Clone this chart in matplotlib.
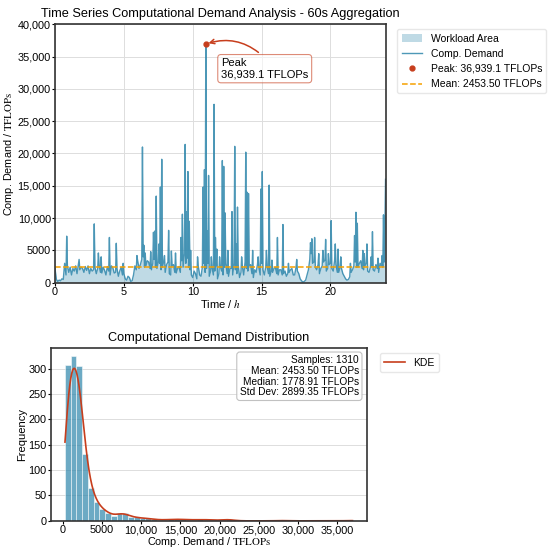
import matplotlib
matplotlib.use("Agg")
import matplotlib.pyplot as plt
import numpy as np
from matplotlib.ticker import FuncFormatter, MultipleLocator

plt.rcParams["font.family"] = ["Liberation Sans", "DejaVu Sans"]
plt.rcParams["mathtext.fontset"] = "stix"

# time series: baseline every 0.1 h (values in thousands of TFLOPs)
base_hours = np.round(np.arange(0, 24.01, 0.1), 2)
base_values = [
    2.2, 0.5, 0.2, 0.4, 0.3, 0.6, 0.5, 3.0, 1.2, 2.6,
    1.6, 2.4, 1.2, 2.2, 1.8, 2.6, 1.4, 2.8, 2.0, 2.4,
    2.2, 1.6, 2.5, 1.9, 2.6, 1.4, 2.2, 1.8, 2.0, 2.4,
    1.4, 2.2, 2.8, 1.6, 1.5, 2.4, 1.9, 1.2, 2.5, 1.8,
    1.2, 2.6, 2.3, 1.5, 1.6, 2.2, 1.0, 1.8, 2.4, 1.2,
    1.4, 0.6, 0.4, 1.0, 0.8, 0.2, 0.3, 1.2, 2.6, 2.0,
    3.4, 2.2, 2.8, 3.6, 4.0, 2.4, 2.6, 3.4, 3.2, 2.2,
    2.0, 3.0, 3.6, 2.4, 2.2, 3.2, 3.0, 2.0, 2.4, 3.4,
    1.6, 2.8, 3.2, 1.4, 1.2, 2.6, 2.8, 1.6, 1.5, 2.2,
    2.5, 1.6, 3.4, 2.4, 4.5, 3.0, 3.8, 2.4, 2.0, 1.2,
    0.8, 1.8, 1.4, 0.6, 2.6, 1.2, 1.0, 2.4, 3.0, 1.6,
    2.2, 3.0, 1.0, 1.8, 2.4, 1.2, 1.8, 2.6, 0.6, 1.4,
    2.6, 1.8, 1.2, 2.4, 3.0, 1.4, 1.0, 2.2, 2.2, 1.2,
    3.0, 2.0, 1.4, 2.8, 0.8, 1.6, 2.6, 1.2, 3.2, 2.2,
    1.8, 2.6, 2.8, 1.4, 0.8, 2.0, 1.6, 2.8, 2.4, 1.2,
    3.0, 2.0, 1.2, 2.4, 2.6, 1.4, 1.0, 1.8, 1.6, 2.2,
    2.4, 1.4, 1.2, 2.0, 2.0, 1.2, 1.4, 1.8, 1.0, 1.4,
    1.6, 2.0, 2.2, 1.2, 1.2, 2.4, 1.8, 1.4, 0.6, 0.3,
    0.1, 0.2, 0.4, 1.2, 2.0, 3.6, 4.5, 3.0, 3.2, 2.4,
    2.0, 2.8, 1.4, 2.2, 2.6, 3.2, 3.5, 1.8, 2.2, 2.8,
    3.0, 2.2, 1.8, 3.4, 2.8, 1.6, 1.6, 2.4, 2.2, 1.4,
    1.0, 0.6, 0.4, 0.5, 0.9, 1.6, 2.0, 2.6, 3.2, 2.4,
    2.4, 3.0, 3.4, 2.2, 2.0, 2.6, 3.0, 1.8, 1.6, 2.4,
    2.6, 2.0, 1.8, 2.8, 2.2, 1.6, 3.0, 2.6, 2.4, 3.2,
    16.0,
]

# spikes between the baseline samples
spike_hours = [
    0.85, 1.75, 2.85, 3.15, 3.35, 3.95, 4.45, 4.95, 5.95, 6.35,
    6.45, 6.55, 6.95, 7.15, 7.25, 7.35, 7.55, 7.65, 7.75, 7.95,
    8.25, 8.45, 8.75, 9.15, 9.25, 9.45, 9.55, 9.65, 9.75, 9.85,
    10.35, 10.75, 10.85, 10.95, 11.05, 11.15, 11.35, 11.55, 11.65, 11.75,
    11.95, 12.15, 12.25, 12.35, 12.55, 12.85, 13.05, 13.15, 13.25, 13.55,
    13.85, 13.95, 14.05, 14.35, 14.75, 14.95, 15.05, 15.35, 15.55, 15.75,
    16.15, 16.55, 16.95, 17.55, 18.55, 18.65, 18.85, 19.15, 19.45, 19.65,
    19.85, 20.05, 20.35, 20.55, 20.75, 21.45, 21.75, 21.85, 21.95, 22.35,
    22.45, 22.65, 22.95, 23.05, 23.45, 23.75, 23.85, 23.95,
]
spike_values = [
    7.2, 3.6, 9.1, 4.6, 4.0, 7.0, 6.1, 3.0, 4.2, 21.0,
    5.8, 4.6, 4.8, 7.8, 8.0, 13.4, 6.0, 14.8, 19.1, 4.2,
    8.1, 4.9, 4.6, 7.0, 10.6, 21.4, 11.0, 17.2, 9.5, 5.0,
    4.0, 14.8, 17.5, 36.9391, 8.0, 16.6, 4.0, 27.6, 7.0, 5.2,
    4.0, 18.9, 18.0, 10.8, 5.0, 11.0, 21.1, 6.0, 11.7, 4.0,
    20.2, 14.0, 13.8, 5.0, 4.0, 14.5, 17.2, 5.0, 15.1, 3.5,
    7.0, 9.0, 3.0, 3.6, 6.2, 6.8, 7.0, 4.5, 5.0, 6.7,
    4.5, 9.6, 6.0, 5.2, 4.0, 3.0, 7.3, 10.9, 9.2, 5.0,
    4.5, 6.0, 4.0, 7.9, 3.8, 4.2, 10.5, 7.8,
]

# histogram counts (50 bins between min and max demand)
hist_min, hist_max = 300.0, 36939.1
hist_counts = [
    307, 324, 305, 132, 64, 37, 24, 16, 10, 15,
    15, 8, 7, 5, 5, 3, 2, 2, 3, 3,
    3, 2, 2, 3, 2, 2, 1, 2, 3, 1,
    0, 0, 0, 0, 0, 0, 0, 1, 0, 0,
    0, 0, 0, 0, 0, 0, 0, 0, 0, 1,
]

n_samples = 1310
mean_val = 2453.50
median_val = 1778.91
std_val = 2899.35
peak_val = 36939.1

C_BLUE = "#2E86AB"
C_RED = "#C73E1D"
C_ORANGE = "#F5A000"

hours = np.concatenate([base_hours, spike_hours])
demand = np.concatenate([base_values, spike_values]) * 1000
order = np.argsort(hours, kind="stable")
hours, demand = hours[order], demand[order]
peak_idx = int(np.argmax(demand))


def fmt_num(x, pos=None):
    return f"{x:,.0f}" if abs(x) >= 10000 else f"{x:.0f}"


fig = plt.figure(figsize=(5.5, 5.5), dpi=100)
ax1 = fig.add_axes([0.100, 0.486, 0.601, 0.470])
ax2 = fig.add_axes([0.092, 0.053, 0.575, 0.314])

# top: time series
ax1.fill_between(hours, demand, color=C_BLUE, alpha=0.3, lw=0, label="Workload Area")
ax1.plot(hours, demand, color=C_BLUE, lw=1.0, alpha=0.85, label="Comp. Demand")
ax1.plot(hours[peak_idx], demand[peak_idx], "o", color=C_RED, ms=3.5,
         label=f"Peak: {peak_val:,.1f} TFLOPs", zorder=5)
ax1.axhline(mean_val, color=C_ORANGE, ls="--", lw=1.1,
            label=f"Mean: {mean_val:.2f} TFLOPs")
ax1.annotate(f"Peak\n{peak_val:,.1f} TFLOPs",
             xy=(hours[peak_idx], demand[peak_idx]),
             xytext=(11, -10), textcoords="offset points", va="top", ha="left",
             fontsize=8,
             bbox=dict(boxstyle="round,pad=0.3", fc="white", ec=C_RED, alpha=0.6, lw=0.8),
             arrowprops=dict(arrowstyle="->", color=C_RED, lw=1.1,
                             connectionstyle="arc3,rad=0.3",
                             relpos=(0.5, 1.0)))
ax1.set_xlim(0, 24)
ax1.set_ylim(0, 40000)
ax1.xaxis.set_major_locator(MultipleLocator(5))
ax1.yaxis.set_major_locator(MultipleLocator(5000))
ax1.yaxis.set_major_formatter(FuncFormatter(fmt_num))
ax1.set_title("Time Series Computational Demand Analysis - 60s Aggregation", fontsize=9.2, pad=5)
ax1.set_xlabel("Time / $h$", fontsize=8, labelpad=1)
ax1.set_ylabel(r"Comp. Demand / $\mathrm{TFLOPs}$", fontsize=7.8, labelpad=1)
ax1.grid(True, color="#dddddd", lw=0.7)
ax1.set_axisbelow(True)
ax1.legend(loc="upper left", bbox_to_anchor=(1.02, 1.0), fontsize=7.5,
           framealpha=0.9, edgecolor="#e5e5e5")

# bottom: distribution
edges = np.linspace(hist_min, hist_max, len(hist_counts) + 1)
width = edges[1] - edges[0]
ax2.bar(edges[:-1], hist_counts, width=width, align="edge", color=C_BLUE,
        alpha=0.7, edgecolor="white", lw=0.5)

centers = (edges[:-1] + edges[1:]) / 2
w = np.array(hist_counts, dtype=float)
bw = 1.06 * std_val * n_samples ** (-0.2) * 0.85
xs = np.linspace(hist_min, hist_max, 600)
dens = (w[None, :] * np.exp(-0.5 * ((xs[:, None] - centers[None, :]) / bw) ** 2)).sum(axis=1)
dens = dens / (w.sum() * bw * np.sqrt(2 * np.pi)) * w.sum() * width
ax2.plot(xs, dens, color=C_RED, lw=1.2, label="KDE")

ax2.xaxis.set_major_locator(MultipleLocator(5000))
ax2.xaxis.set_major_formatter(FuncFormatter(fmt_num))
ax2.yaxis.set_major_locator(MultipleLocator(50))
ax2.set_title("Computational Demand Distribution", fontsize=9.2, pad=5)
ax2.set_xlabel(r"Comp. Demand / $\mathrm{TFLOPs}$", fontsize=7.8, labelpad=0)
ax2.set_ylabel("Frequency", fontsize=8, labelpad=1)
ax2.grid(True, axis="y", color="#dddddd", lw=0.7)
ax2.set_axisbelow(True)
stats = (f"Samples: {n_samples}\nMean: {mean_val:.2f} TFLOPs\n"
         f"Median: {median_val:.2f} TFLOPs\nStd Dev: {std_val:.2f} TFLOPs")
ax2.text(0.975, 0.96, stats, transform=ax2.transAxes, ha="right", va="top",
         fontsize=7.3, linespacing=1.1,
         bbox=dict(boxstyle="round,pad=0.3", fc="white", ec="#bbbbbb", alpha=0.9, lw=0.8))
ax2.legend(loc="upper left", bbox_to_anchor=(1.025, 1.0), fontsize=7.5,
           framealpha=0.9, edgecolor="#e5e5e5")

for ax in (ax1, ax2):
    ax.tick_params(labelsize=7.8, length=2, pad=1)
    for s in ax.spines.values():
        s.set_color("#333333")
        s.set_linewidth(1.2)

fig.savefig("out.png", dpi=100)
